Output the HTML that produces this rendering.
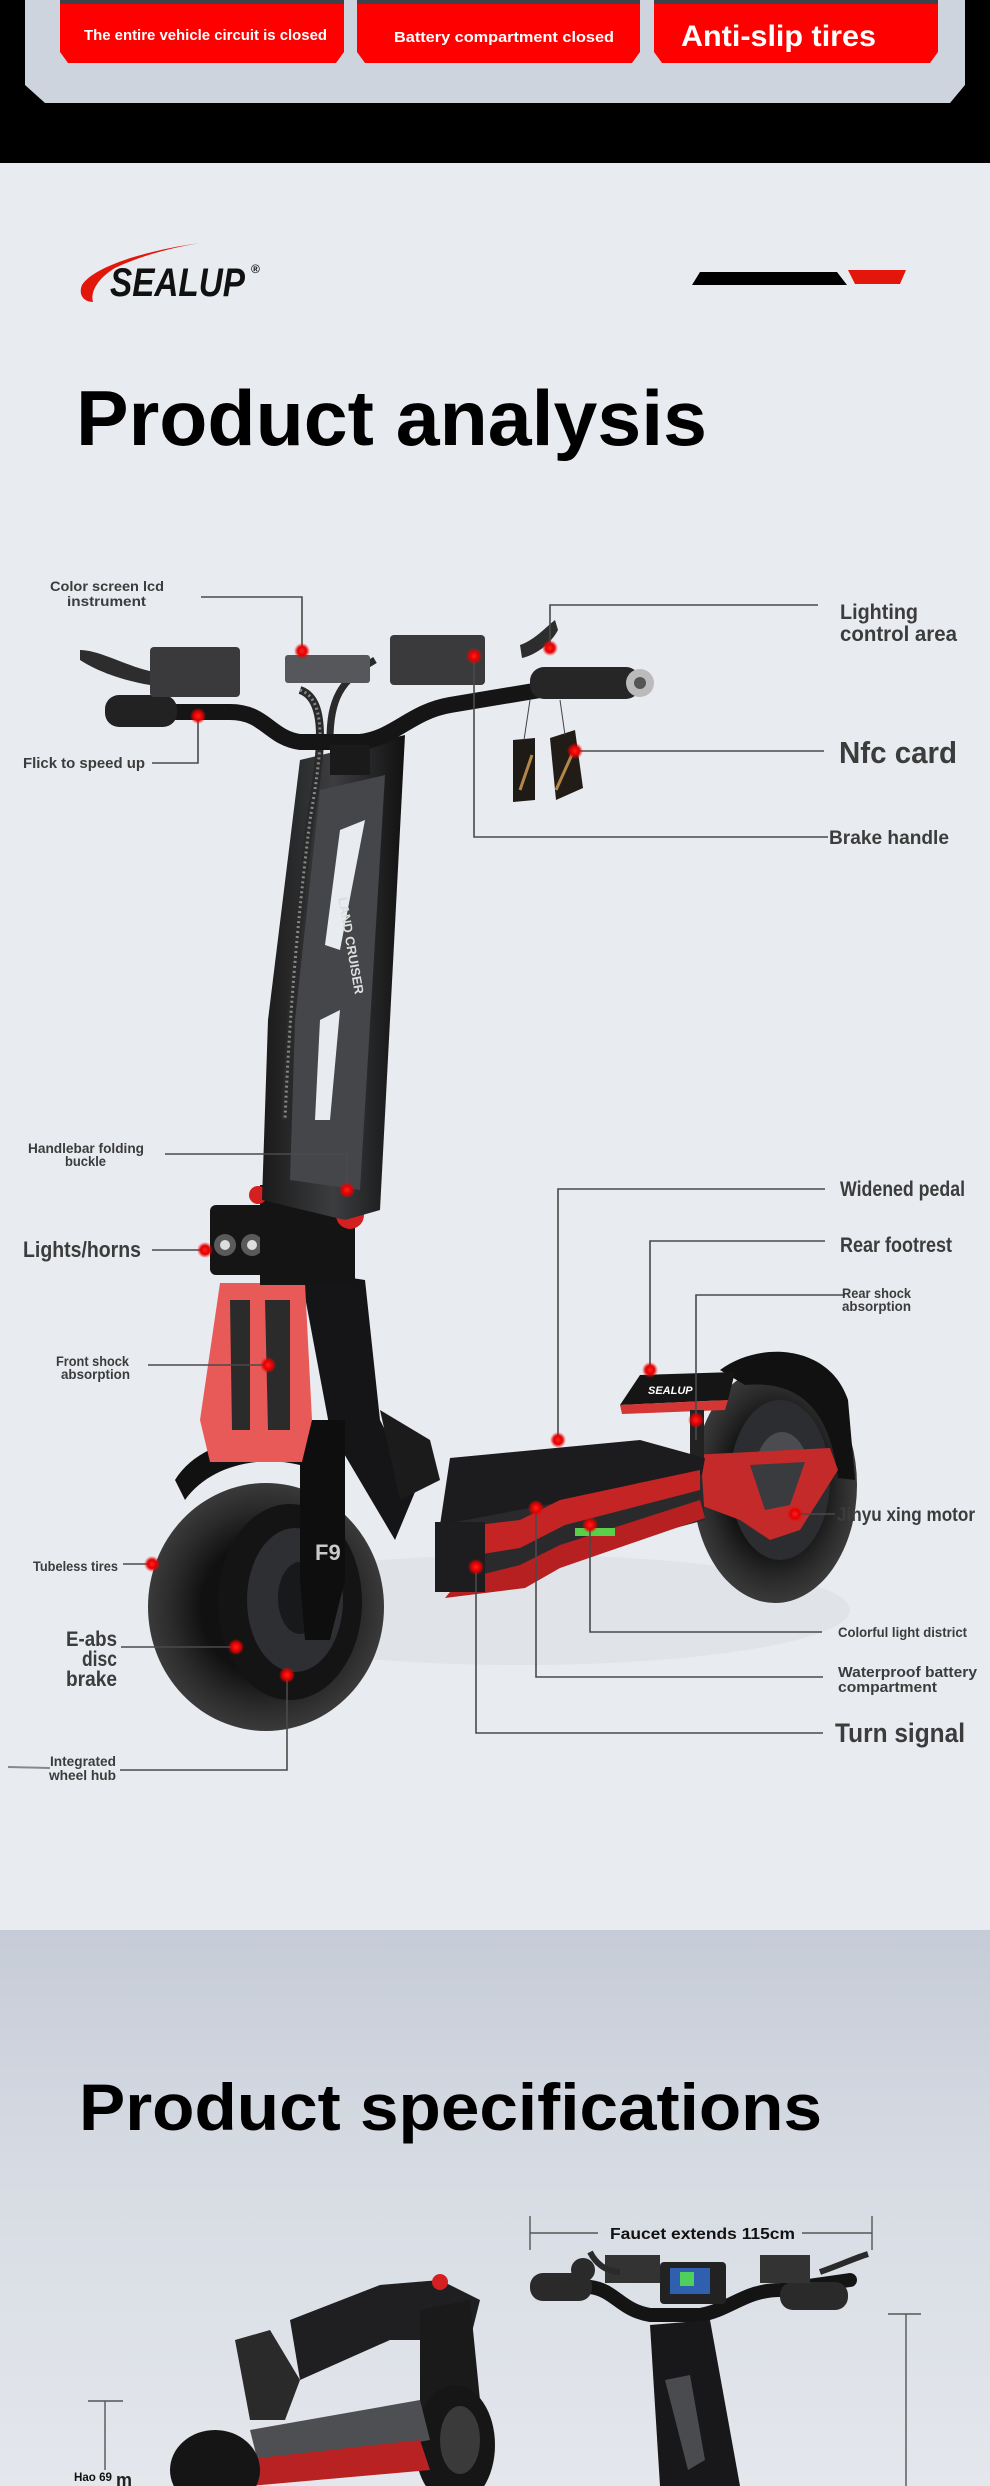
<!DOCTYPE html>
<html><head><meta charset="utf-8"><style>
html,body{margin:0;padding:0;background:#e8ebf0}
svg{display:block}
text{font-family:"Liberation Sans Narrow","Liberation Sans",sans-serif;font-weight:bold}
</style></head><body>
<svg width="990" height="2486" viewBox="0 0 990 2486" xmlns="http://www.w3.org/2000/svg">
<defs>
<linearGradient id="spec" x1="0" y1="0" x2="0" y2="1">
<stop offset="0" stop-color="#c6ccd7"/><stop offset="0.45" stop-color="#d7dce4"/><stop offset="1" stop-color="#e4e7ec"/>
</linearGradient>
<radialGradient id="dot"><stop offset="0" stop-color="#ff2020"/><stop offset="0.55" stop-color="#e00000"/><stop offset="1" stop-color="#ff0000" stop-opacity="0"/></radialGradient>
<radialGradient id="tire" cx="0.5" cy="0.5" r="0.5"><stop offset="0.55" stop-color="#111"/><stop offset="0.8" stop-color="#2a2a2a"/><stop offset="1" stop-color="#3a3a3a"/></radialGradient>
<linearGradient id="stem" x1="0" y1="0" x2="1" y2="0"><stop offset="0" stop-color="#1a1a1a"/><stop offset="0.5" stop-color="#3c3d40"/><stop offset="1" stop-color="#111"/></linearGradient>
</defs>

<rect x="0" y="0" width="990" height="163" fill="#000"/>
<polygon points="25,0 965,0 965,85 950,103 45,103 25,85" fill="#cdd4de"/>
<g>
<polygon points="60,0 344,0 344,52 336,63 68,63 60,52" fill="#ff0000"/>
<polygon points="357,0 640,0 640,52 632,63 365,63 357,52" fill="#ff0000"/>
<polygon points="654,0 938,0 938,52 930,63 662,63 654,52" fill="#ff0000"/>
<rect x="60" y="0" width="284" height="4" fill="#3d4149"/>
<rect x="357" y="0" width="283" height="4" fill="#3d4149"/>
<rect x="654" y="0" width="284" height="4" fill="#3d4149"/>
<text x="84" y="40" font-size="15" fill="#fff" textLength="243" lengthAdjust="spacingAndGlyphs">The entire vehicle circuit is closed</text>
<text x="394" y="42" font-size="15" fill="#fff" textLength="220" lengthAdjust="spacingAndGlyphs">Battery compartment closed</text>
<text x="681" y="46" font-size="30" fill="#fff" textLength="195" lengthAdjust="spacingAndGlyphs">Anti-slip tires</text>
</g>

<rect x="0" y="163" width="990" height="1768" fill="#e8ebf0"/>

<path d="M200,243 C150,250 95,265 82,285 C78,295 84,302 93,302 C90,292 98,278 115,268 C140,256 170,248 200,243 Z" fill="#e3160b"/>
<text x="110" y="296" font-size="40" font-style="italic" fill="#111" font-family="Liberation Sans, sans-serif" textLength="135" lengthAdjust="spacingAndGlyphs">SEALUP</text>
<text x="251" y="273" font-size="12" fill="#111" font-family="Liberation Sans, sans-serif">®</text>
<polygon points="700,272 837,272 847,285 692,285" fill="#000"/>
<polygon points="848,270 906,270 900,284 855,284" fill="#e3160b"/>

<text x="76" y="445" font-size="78" fill="#000" textLength="631" lengthAdjust="spacingAndGlyphs">Product analysis</text>

<ellipse cx="520" cy="1610" rx="330" ry="55" fill="#e0e3e8"/>
<ellipse cx="775" cy="1485" rx="82" ry="118" fill="url(#tire)"/>
<ellipse cx="780" cy="1480" rx="50" ry="80" fill="#2c2d30"/>
<ellipse cx="782" cy="1478" rx="28" ry="46" fill="#4a4c50"/>
<path d="M720,1370 C760,1340 830,1345 848,1400 L855,1480 L838,1478 C830,1410 800,1380 745,1385 Z" fill="#111"/>
<polygon points="690,1455 830,1448 838,1470 800,1530 770,1540 740,1520 700,1505" fill="#c42a2a"/>
<polygon points="750,1465 805,1462 790,1505 765,1510" fill="#3a3b3e"/>
<polygon points="640,1375 735,1372 728,1400 620,1405" fill="#151515"/>
<polygon points="620,1405 728,1400 725,1410 622,1414" fill="#d43535"/>
<text x="648" y="1394" font-size="11" font-style="italic" fill="#fff" font-family="Liberation Sans, sans-serif">SEALUP</text>
<rect x="690" y="1410" width="14" height="50" fill="#222"/>
<polygon points="450,1458 640,1440 705,1458 702,1475 470,1540 440,1525" fill="#1c1c1e"/>
<polygon points="440,1525 702,1475 705,1520 445,1590 435,1585" fill="#2a2a2c"/>
<polygon points="436,1530 520,1520 560,1500 700,1470 700,1490 565,1525 520,1548 445,1560" fill="#c42424"/>
<polygon points="460,1580 520,1565 560,1545 700,1500 705,1518 560,1568 525,1588 445,1598" fill="#b62020"/>
<rect x="435" y="1522" width="50" height="70" fill="#1d1d1f"/>
<rect x="575" y="1528" width="40" height="8" fill="#5ad04a"/>
<polygon points="300,1270 365,1280 380,1420 400,1460 420,1480 395,1540 330,1430" fill="#151517"/>
<polygon points="380,1410 430,1440 440,1480 400,1500" fill="#1b1b1c"/>
<ellipse cx="266" cy="1607" rx="118" ry="124" fill="url(#tire)"/>
<ellipse cx="290" cy="1602" rx="72" ry="98" fill="#141414"/>
<ellipse cx="295" cy="1600" rx="48" ry="72" fill="#2e2f33"/>
<ellipse cx="300" cy="1598" rx="22" ry="36" fill="#18191b"/>
<polygon points="300,1420 345,1420 345,1580 330,1640 305,1640 300,1580" fill="#0e0e0f"/>
<text x="315" y="1560" font-size="22" fill="#c9c9c9" font-family="Liberation Sans, sans-serif">F9</text>
<path d="M175,1480 C200,1440 260,1430 300,1445 L300,1465 C260,1455 210,1465 185,1500 Z" fill="#111"/>
<polygon points="220,1283 305,1283 312,1420 302,1462 210,1462 200,1420" fill="#e85a58"/>
<polygon points="230,1300 250,1300 250,1430 232,1430" fill="#2b2b2b"/>
<polygon points="265,1300 290,1300 290,1430 268,1430" fill="#2b2b2b"/>
<rect x="210" y="1205" width="60" height="70" rx="6" fill="#151516"/>
<circle cx="225" cy="1245" r="11" fill="#5a5a5a"/><circle cx="252" cy="1245" r="11" fill="#5a5a5a"/>
<circle cx="225" cy="1245" r="5" fill="#ddd"/><circle cx="252" cy="1245" r="5" fill="#ddd"/>
<rect x="260" y="1185" width="95" height="100" fill="#141415"/>
<circle cx="350" cy="1215" r="14" fill="#d42020"/>
<circle cx="258" cy="1195" r="9" fill="#d42020"/>
<polygon points="300,760 405,735 380,1210 345,1220 262,1200 268,1020" fill="url(#stem)"/>
<polygon points="320,790 385,775 360,1190 290,1180 295,1020" fill="#44464a"/>
<polygon points="340,830 365,820 340,950 325,945" fill="#e8ebf0"/>
<polygon points="320,1020 340,1010 330,1120 315,1120" fill="#e8ebf0"/>
<text x="0" y="0" font-size="13" fill="#ddd" font-family="Liberation Sans, sans-serif" transform="translate(338,898) rotate(80)">LAND CRUISER</text>
<path d="M300,690 C330,700 320,760 310,820 C300,900 290,1000 285,1120" stroke="#2a2a2a" stroke-width="8" fill="none"/>
<path d="M300,690 C330,700 320,760 310,820 C300,900 290,1000 285,1120" stroke="#888" stroke-width="3" stroke-dasharray="2 3" fill="none"/>
<path d="M375,660 C340,680 330,700 330,740" stroke="#2a2a2a" stroke-width="7" fill="none"/>
<path d="M170,712 L230,712 C265,712 270,738 300,742 L360,742 C395,738 410,712 450,705 L540,690" stroke="#151515" stroke-width="16" fill="none" stroke-linecap="round"/>
<rect x="105" y="695" width="72" height="32" rx="14" fill="#222"/>
<rect x="530" y="667" width="110" height="32" rx="14" fill="#262626"/>
<circle cx="640" cy="683" r="14" fill="#bbb"/>
<circle cx="640" cy="683" r="6" fill="#555"/>
<path d="M80,650 C100,650 130,668 155,672 L150,685 C120,680 95,670 80,660 Z" fill="#2d2d2d"/>
<path d="M520,645 C535,640 548,625 555,620 L558,630 C550,645 535,655 522,658 Z" fill="#2d2d2d"/>
<rect x="150" y="647" width="90" height="50" rx="4" fill="#3a3a3c"/>
<rect x="285" y="655" width="85" height="28" rx="3" fill="#55575a"/>
<rect x="390" y="635" width="95" height="50" rx="4" fill="#3a3a3c"/>
<rect x="330" y="745" width="40" height="30" fill="#1a1a1a"/>
<polygon points="513,740 535,738 535,800 513,802" fill="#1e1a16"/>
<polygon points="550,738 575,730 583,788 556,800" fill="#221c16"/>
<path d="M520,790 L532,755 M556,790 L574,750" stroke="#b3874a" stroke-width="3"/>
<path d="M530,700 L524,740 M560,700 L565,735" stroke="#444" stroke-width="1"/>

<g stroke="#4a4a4a" stroke-width="1.6" fill="none">
<polyline points="201,597 302,597 302,651"/>
<polyline points="152,763 198,763 198,716"/>
<polyline points="550,648 550,605 818,605"/>
<polyline points="575,751 824,751"/>
<polyline points="474,656 474,837 828,837"/>
<polyline points="165,1154 347,1154 347,1190"/>
<polyline points="152,1250 205,1250"/>
<polyline points="148,1365 268,1365"/>
<polyline points="825,1189 558,1189 558,1440"/>
<polyline points="825,1241 650,1241 650,1370"/>
<polyline points="845,1295 696,1295 696,1440"/>
<polyline points="795,1514 835,1514"/>
<polyline points="123,1564 152,1564"/>
<polyline points="121,1647 236,1647"/>
<polyline points="120,1770 287,1770 287,1675"/>
<polyline points="822,1632 590,1632 590,1525"/>
<polyline points="823,1677 536,1677 536,1508"/>
<polyline points="823,1733 476,1733 476,1567"/>
</g>
<line x1="8" y1="1767" x2="50" y2="1768" stroke="#888" stroke-width="2"/>
<g fill="url(#dot)">
<circle cx="302" cy="651" r="8"/><circle cx="198" cy="716" r="8"/><circle cx="550" cy="648" r="8"/>
<circle cx="575" cy="751" r="8"/><circle cx="474" cy="656" r="8"/><circle cx="347" cy="1190" r="8"/>
<circle cx="205" cy="1250" r="8"/><circle cx="268" cy="1365" r="8"/><circle cx="558" cy="1440" r="8"/>
<circle cx="650" cy="1370" r="8"/><circle cx="696" cy="1420" r="8"/><circle cx="795" cy="1514" r="8"/>
<circle cx="152" cy="1564" r="8"/><circle cx="236" cy="1647" r="8"/><circle cx="287" cy="1675" r="8"/>
<circle cx="590" cy="1525" r="8"/><circle cx="536" cy="1508" r="8"/><circle cx="476" cy="1567" r="8"/>
</g>

<g fill="#3c3c3c">
<text x="50" y="591" font-size="14" textLength="114" lengthAdjust="spacingAndGlyphs">Color screen lcd</text>
<text x="67" y="606" font-size="14" textLength="79" lengthAdjust="spacingAndGlyphs">instrument</text>
<text x="23" y="768" font-size="15" textLength="122" lengthAdjust="spacingAndGlyphs">Flick to speed up</text>
<text x="840" y="619" font-size="21" textLength="78" lengthAdjust="spacingAndGlyphs">Lighting</text>
<text x="840" y="641" font-size="21" textLength="117" lengthAdjust="spacingAndGlyphs">control area</text>
<text x="839" y="763" font-size="31" textLength="118" lengthAdjust="spacingAndGlyphs">Nfc card</text>
<text x="829" y="844" font-size="19" textLength="120" lengthAdjust="spacingAndGlyphs">Brake handle</text>
<text x="28" y="1153" font-size="14" textLength="116" lengthAdjust="spacingAndGlyphs">Handlebar folding</text>
<text x="65" y="1166" font-size="14" textLength="41" lengthAdjust="spacingAndGlyphs">buckle</text>
<text x="23" y="1257" font-size="22" textLength="118" lengthAdjust="spacingAndGlyphs">Lights/horns</text>
<text x="56" y="1366" font-size="14" textLength="73" lengthAdjust="spacingAndGlyphs">Front shock</text>
<text x="61" y="1379" font-size="14" textLength="69" lengthAdjust="spacingAndGlyphs">absorption</text>
<text x="840" y="1196" font-size="21" textLength="125" lengthAdjust="spacingAndGlyphs">Widened pedal</text>
<text x="840" y="1252" font-size="21" textLength="112" lengthAdjust="spacingAndGlyphs">Rear footrest</text>
<text x="842" y="1298" font-size="14" textLength="69" lengthAdjust="spacingAndGlyphs">Rear shock</text>
<text x="842" y="1311" font-size="14" textLength="69" lengthAdjust="spacingAndGlyphs">absorption</text>
<text x="837" y="1521" font-size="19" textLength="138" lengthAdjust="spacingAndGlyphs">Jinyu xing motor</text>
<text x="33" y="1571" font-size="14" textLength="85" lengthAdjust="spacingAndGlyphs">Tubeless tires</text>
<text x="66" y="1646" font-size="21" textLength="51" lengthAdjust="spacingAndGlyphs">E-abs</text>
<text x="82" y="1666" font-size="21" textLength="35" lengthAdjust="spacingAndGlyphs">disc</text>
<text x="66" y="1686" font-size="21" textLength="51" lengthAdjust="spacingAndGlyphs">brake</text>
<text x="50" y="1766" font-size="14" textLength="66" lengthAdjust="spacingAndGlyphs">Integrated</text>
<text x="49" y="1780" font-size="14" textLength="67" lengthAdjust="spacingAndGlyphs">wheel hub</text>
<text x="838" y="1637" font-size="14" textLength="129" lengthAdjust="spacingAndGlyphs">Colorful light district</text>
<text x="838" y="1677" font-size="15" textLength="139" lengthAdjust="spacingAndGlyphs">Waterproof battery</text>
<text x="838" y="1692" font-size="15" textLength="99" lengthAdjust="spacingAndGlyphs">compartment</text>
<text x="835" y="1742" font-size="27" textLength="130" lengthAdjust="spacingAndGlyphs">Turn signal</text>
</g>

<rect x="0" y="1930" width="990" height="556" fill="url(#spec)"/>
<text x="79" y="2130" font-size="66" fill="#000" textLength="743" lengthAdjust="spacingAndGlyphs">Product specifications</text>

<g stroke="#555" stroke-width="1.4" fill="none">
<line x1="530" y1="2216" x2="530" y2="2250"/>
<line x1="872" y1="2216" x2="872" y2="2250"/>
<line x1="530" y1="2233" x2="598" y2="2233"/>
<line x1="802" y1="2233" x2="872" y2="2233"/>
<line x1="888" y1="2314" x2="921" y2="2314"/>
<line x1="906" y1="2314" x2="906" y2="2486"/>
<line x1="88" y1="2401" x2="123" y2="2401"/>
<line x1="105" y1="2401" x2="105" y2="2470"/>
</g>
<text x="610" y="2239" font-size="16" fill="#111" textLength="185" lengthAdjust="spacingAndGlyphs">Faucet extends 115cm</text>
<text x="74" y="2481" font-size="12" fill="#111" textLength="38" lengthAdjust="spacingAndGlyphs">Hao 69</text>
<text x="116" y="2486" font-size="18" fill="#222">m</text>

<path d="M545,2287 L590,2287 C615,2290 620,2310 650,2315 L700,2315 C730,2310 745,2290 780,2290 L850,2280" stroke="#141414" stroke-width="14" fill="none" stroke-linecap="round"/>
<rect x="530" y="2273" width="62" height="28" rx="13" fill="#2a2a2a"/>
<rect x="780" y="2282" width="68" height="28" rx="13" fill="#2a2a2a"/>
<circle cx="583" cy="2270" r="12" fill="#2a2a2a"/>
<rect x="660" y="2262" width="66" height="42" rx="4" fill="#222"/>
<rect x="670" y="2268" width="40" height="26" fill="#2f5fae"/>
<rect x="680" y="2272" width="14" height="14" fill="#4fcf5c"/>
<rect x="605" y="2255" width="55" height="28" fill="#333"/>
<rect x="760" y="2255" width="50" height="28" fill="#333"/>
<path d="M590,2252 C595,2262 605,2272 620,2272 M820,2272 C840,2265 855,2258 868,2254" stroke="#2a2a2a" stroke-width="6" fill="none"/>
<polygon points="650,2325 710,2320 740,2486 660,2486" fill="#18181a"/>
<polygon points="665,2380 690,2375 705,2460 688,2470" fill="#4a4b4f"/>

<polygon points="290,2320 380,2285 440,2280 480,2300 470,2340 390,2340 300,2380" fill="#1f1f21"/>
<polygon points="420,2310 470,2300 480,2400 455,2430 420,2420" fill="#1a1a1a"/>
<circle cx="440" cy="2282" r="8" fill="#d42020"/>
<ellipse cx="455" cy="2445" rx="40" ry="60" fill="#161616"/>
<ellipse cx="460" cy="2440" rx="20" ry="34" fill="#3a3a3a"/>
<polygon points="235,2340 270,2330 300,2380 285,2420 250,2420" fill="#2a2a2a"/>
<polygon points="250,2430 420,2400 430,2440 260,2470" fill="#4e4f53"/>
<polygon points="240,2460 420,2440 430,2470 250,2486 240,2486" fill="#b82222"/>
<ellipse cx="215" cy="2470" rx="45" ry="40" fill="#151515"/>
</svg>
</body></html>
